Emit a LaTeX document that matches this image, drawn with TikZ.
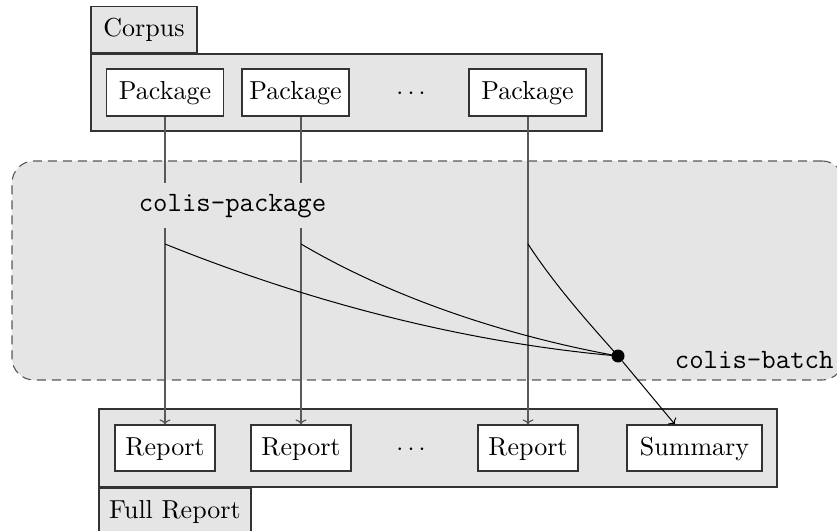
\documentclass[tikz,border=0pt]{standalone}
\usepackage{fontspec}
\usetikzlibrary{arrows.meta}
\begin{document}
\begin{tikzpicture}[x=0.4pt,y=0.4pt,
  txt/.style={font=\fontsize{10.4}{12}\selectfont, text height=7.6pt, text depth=2pt},
  container/.style={draw=black!80, line width=0.48pt, fill=black!10, inner sep=0pt},
  tabbox/.style={draw=black!80, line width=0.48pt, fill=black!10, inner sep=0pt, txt, minimum height=18.4pt},
  itembox/.style={draw=black!80, line width=0.48pt, fill=white, inner sep=0pt, txt, minimum height=18.8pt},
  flow/.style={draw=black!65, line width=0.48pt, -{To[length=2pt,width=4.4pt]}},
  curve/.style={draw=black, line width=0.4pt},
  ttlab/.style={font=\fontsize{11.2}{13}\selectfont\ttfamily}
]
\useasboundingbox (0,0) rectangle (837,-531);

% colis-batch region
\node[draw=black!65, line width=0.44pt, dash pattern=on 3.6pt off 2.4pt, fill=black!10,
      rounded corners=8.8pt, minimum width=332.8pt, minimum height=87.6pt, inner sep=0pt]
      (batch) at (428,-270.5) {};
\node[ttlab, anchor=base east, inner sep=0pt] (batchlab) at (834,-368) {colis-batch};

% Corpus
\node[container, minimum width=204.4pt, minimum height=30.8pt] (corpus) at (346.5,-92.5) {};
\node[tabbox, anchor=south west, minimum width=42.4pt] (corpustab) at (corpus.north west) {Corpus};
\node[itembox, minimum width=46.8pt] (p1) at (165,-92.5) {Package};
\node[itembox, minimum width=42.8pt] (p2) at (295.5,-92.5) {Package};
\node[txt] (pdots) at (411,-92.5) {$\cdots$};
\node[itembox, minimum width=46.8pt] (p3) at (527.5,-92.5) {Package};

% Full report
\node[container, minimum width=271.2pt, minimum height=31.2pt] (full) at (438,-448) {};
\node[tabbox, anchor=north west, minimum width=60.8pt] (fulltab) at (full.south west) {Full Report};
\node[itembox, minimum width=40pt, minimum height=18.4pt] (r1) at (165,-448) {Report};
\node[itembox, minimum width=40pt, minimum height=18.4pt] (r2) at (301,-448) {Report};
\node[txt] (rdots) at (411,-448) {$\cdots$};
\node[itembox, minimum width=40pt, minimum height=18.4pt] (r3) at (528,-448) {Report};
\node[itembox, minimum width=54pt, minimum height=18.4pt] (summary) at (694.5,-448) {Summary};

% package -> report
\draw[flow] (p1.south -| r1.north) -- (r1.north);
\draw[flow] (p2.south -| r2.north) -- (r2.north);
\draw[flow] (p3.south -| r3.north) -- (r3.north);

% colis-package label over the lines
\node[ttlab, fill=black!10, anchor=base, inner xsep=0.8pt, inner ysep=0pt,
      text height=11.4pt, text depth=6.6pt] (pkglab) at (232.5,-211.5) {colis-package};

% aggregation
\coordinate (s1) at (165,-244);
\coordinate (s2) at (301,-244);
\coordinate (s3) at (528,-244);
\node[circle, fill=black, inner sep=0pt, minimum size=5.2pt] (hub) at (618,-356) {};
\draw[curve] (s1) .. controls (309,-302) and (464,-342.5) .. (hub.center);
\draw[curve] (s2) .. controls (396,-300) and (512,-337) .. (hub.center);
\draw[curve] (s3) .. controls (554,-284) and (586,-320) .. (hub.center);
\draw[curve, -{To[length=2pt,width=4.4pt]}] (hub) -- (summary);
\end{tikzpicture}
\end{document}
